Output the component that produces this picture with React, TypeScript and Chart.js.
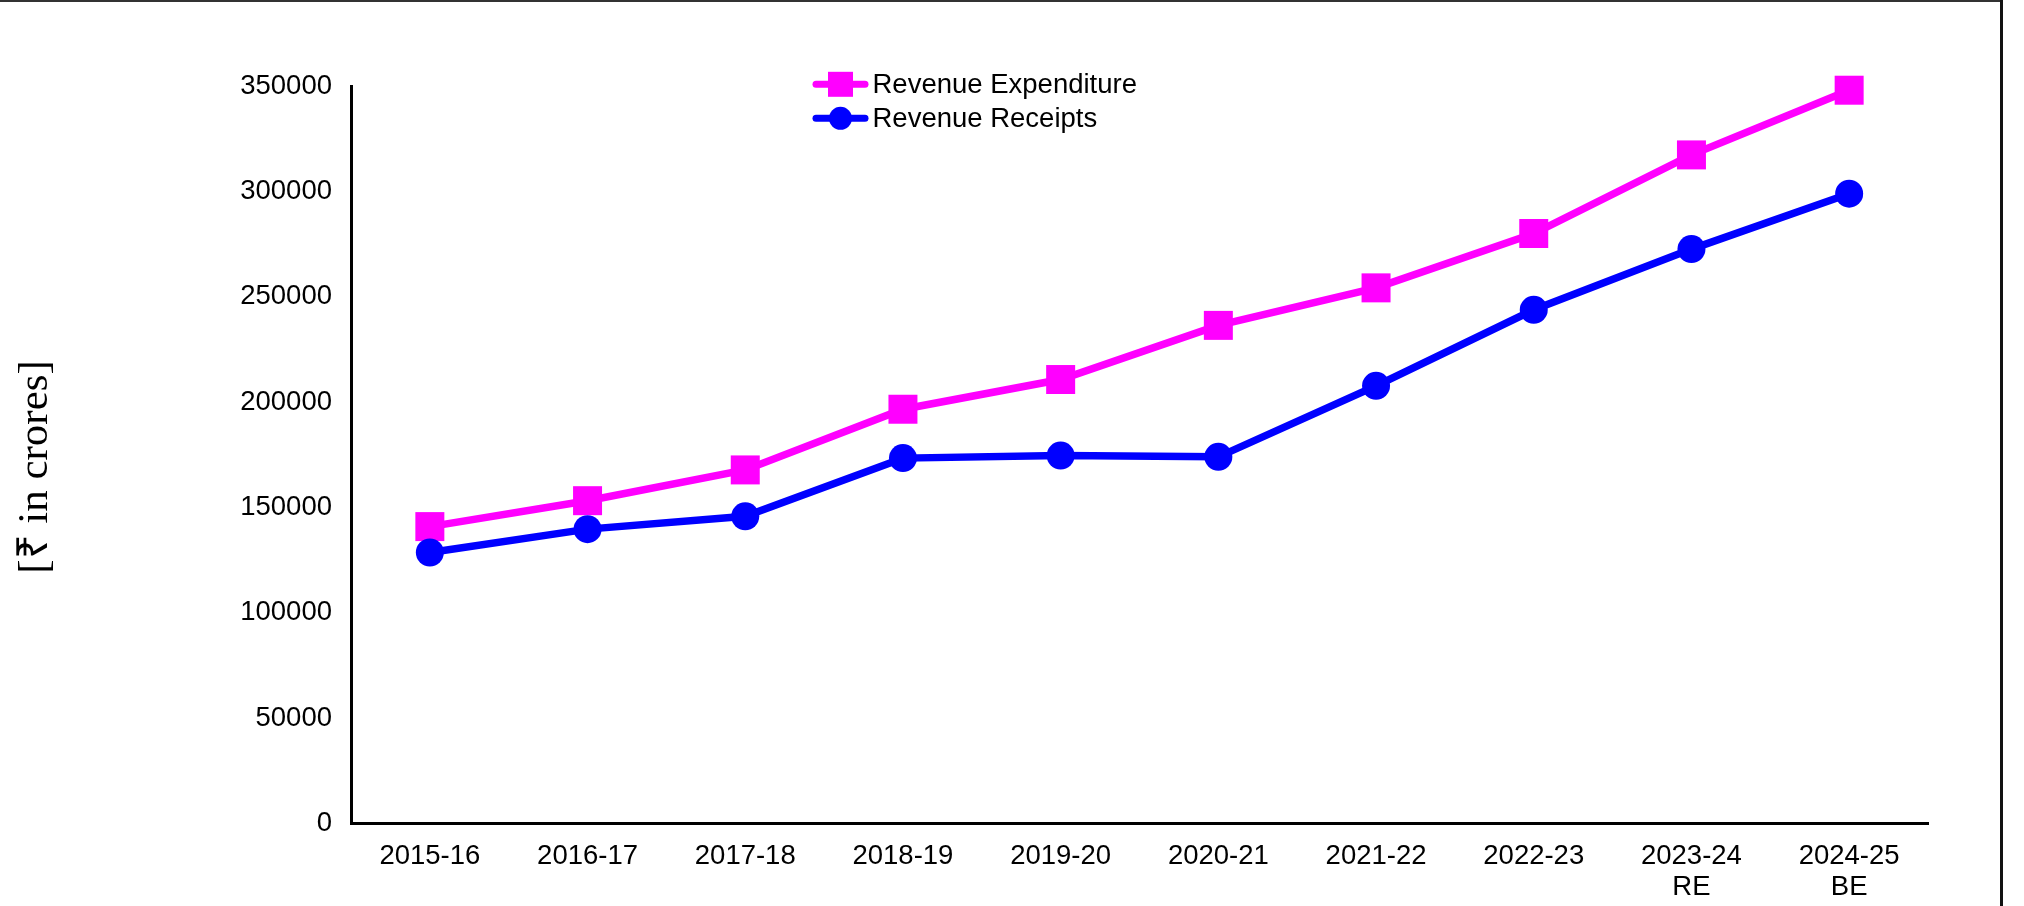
import React, { useEffect, useRef } from "react";
import { Chart, registerables } from "chart.js";

Chart.register(...registerables);

const categories: (string | string[])[] = [
  "2015-16",
  "2016-17",
  "2017-18",
  "2018-19",
  "2019-20",
  "2020-21",
  "2021-22",
  "2022-23",
  ["2023-24", "RE"],
  ["2024-25", "BE"],
];

const revenueExpenditure = [140900, 153200, 167800, 196600, 210700, 236400, 254200, 280000, 317300, 348000];
const revenueReceipts = [128600, 139700, 145800, 173400, 174600, 174000, 207700, 243800, 272600, 298900];

const yTicksMax = 350000;
const yTicksStep = 50000;
const yAxisTitle = "[₹ in crores]";

const FONT = "'Liberation Sans', Arial, sans-serif";

const decorPlugin = {
  id: "decor",
  afterDraw(chart: any) {
    const ctx = chart.ctx as CanvasRenderingContext2D;
    ctx.save();
    // outer frame (top and right)
    ctx.strokeStyle = "#333";
    ctx.lineWidth = 2;
    ctx.beginPath();
    ctx.moveTo(0, 1);
    ctx.lineTo(2002, 1);
    ctx.stroke();
    ctx.strokeStyle = "#111";
    ctx.lineWidth = 3;
    ctx.beginPath();
    ctx.moveTo(2001.5, 0);
    ctx.lineTo(2001.5, 906);
    ctx.stroke();

    // y axis title
    ctx.save();
    ctx.translate(36, 467);
    ctx.rotate(-Math.PI / 2);
    ctx.fillStyle = "#000";
    ctx.font = "43px 'Liberation Serif', 'Times New Roman', serif";
    ctx.textAlign = "center";
    ctx.textBaseline = "middle";
    ctx.fillText(yAxisTitle, 0, 0);
    ctx.restore();

    // custom legend
    const items = chart.data.datasets;
    const rowY = [84.3, 118.3];
    items.forEach((ds: any, i: number) => {
      const y = rowY[i];
      ctx.strokeStyle = ds.borderColor;
      ctx.lineWidth = 7;
      ctx.lineCap = "round";
      ctx.beginPath();
      ctx.moveTo(816, y);
      ctx.lineTo(865, y);
      ctx.stroke();
      ctx.fillStyle = ds.borderColor;
      const cx = 840.5;
      if (ds.pointStyle === "rect") {
        ctx.fillRect(cx - 12.5, y - 12.5, 25, 25);
      } else {
        ctx.beginPath();
        ctx.arc(cx, y, 11.5, 0, Math.PI * 2);
        ctx.fill();
      }
      ctx.fillStyle = "#000";
      ctx.font = `27.5px ${FONT}`;
      ctx.textAlign = "left";
      ctx.textBaseline = "middle";
      ctx.fillText(ds.label, 872.5, y + 1);
    });
    ctx.restore();
  },
};

export default function App() {
  const ref = useRef<HTMLCanvasElement | null>(null);

  useEffect(() => {
    document.body.style.margin = "0";
    document.body.style.overflow = "hidden";
    const canvas = ref.current;
    if (!canvas) return;
    const chart = new Chart(canvas, {
      type: "line",
      data: {
        labels: categories,
        datasets: [
          {
            label: "Revenue Expenditure",
            data: revenueExpenditure,
            borderColor: "#FF00FF",
            backgroundColor: "#FF00FF",
            borderWidth: 7.5,
            pointStyle: "rect",
            pointRadius: 20.5,
            pointBorderWidth: 0,
            pointBackgroundColor: "#FF00FF",
            tension: 0,
            order: 1,
            clip: false,
          },
          {
            label: "Revenue Receipts",
            data: revenueReceipts,
            borderColor: "#0000FF",
            backgroundColor: "#0000FF",
            borderWidth: 7.5,
            pointStyle: "circle",
            pointRadius: 14,
            pointBorderWidth: 0,
            pointBackgroundColor: "#0000FF",
            tension: 0,
            order: 0,
            clip: false,
          },
        ],
      },
      options: {
        responsive: false,
        animation: false,
        devicePixelRatio: 1,
        layout: { padding: { top: 86, right: 96, bottom: 0, left: 0 } },
        plugins: {
          legend: { display: false },
          tooltip: { enabled: false },
          title: { display: false },
        },
        scales: {
          x: {
            type: "category",
            offset: true,
            grid: { display: false, drawTicks: false },
            border: { display: true, color: "#000", width: 3 },
            ticks: {
              color: "#000",
              font: { family: FONT, size: 27.5, lineHeight: 1.13 },
              padding: 17,
              maxRotation: 0,
              autoSkip: false,
            },
            afterFit(scale: any) {
              scale.height = 82.5;
            },
          },
          y: {
            min: 0,
            max: yTicksMax,
            grid: { display: false, drawTicks: false },
            border: { display: true, color: "#000", width: 3 },
            ticks: {
              stepSize: yTicksStep,
              color: "#000",
              font: { family: FONT, size: 27.5 },
              padding: 19,
              callback: (v: any) => String(v),
            },
            afterFit(scale: any) {
              scale.width = 351;
            },
          },
        },
      },
      plugins: [decorPlugin],
    });
    return () => chart.destroy();
  }, []);

  return (
    <div style={{ position: "fixed", left: 0, top: 0, width: 2024, height: 906, background: "#fff" }}>
      <canvas ref={ref} width={2024} height={906} style={{ display: "block" }} />
    </div>
  );
}
